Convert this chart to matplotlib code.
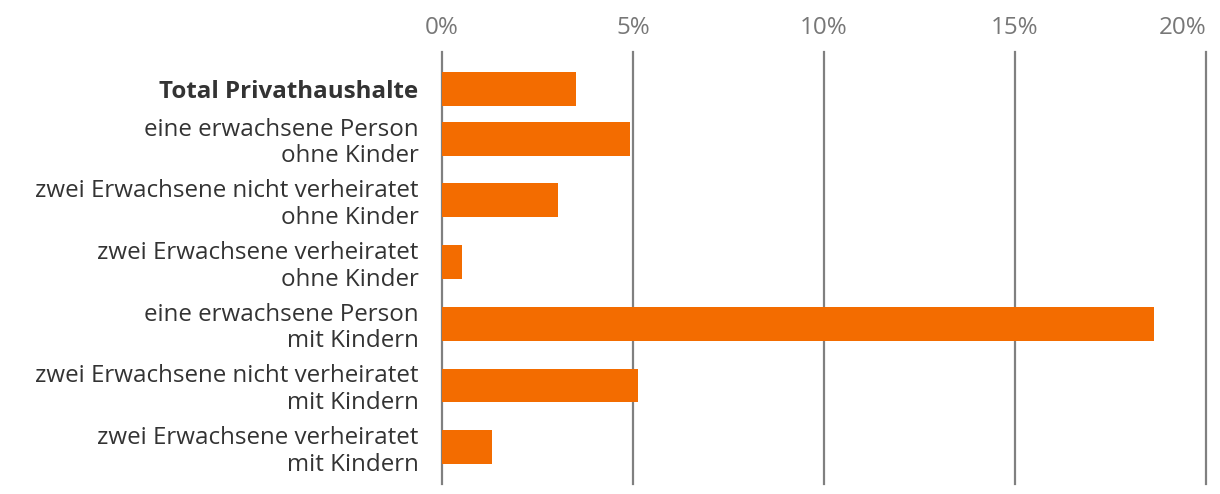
import numpy as np
import matplotlib
matplotlib.use('Agg')
from matplotlib import pyplot as plt

plt.rcParams['font.family'] = ['Open Sans', 'DejaVu Sans']

# Daten (Anteil in %)
labels = ['Total Privathaushalte',
          'eine erwachsene Person\nohne Kinder',
          'zwei Erwachsene nicht verheiratet\nohne Kinder',
          'zwei Erwachsene verheiratet\nohne Kinder',
          'eine erwachsene Person\nmit Kindern',
          'zwei Erwachsene nicht verheiratet\nmit Kindern',
          'zwei Erwachsene verheiratet\nmit Kindern']
werte = [3.5, 4.92, 3.04, 0.52, 18.64, 5.13, 1.31]
xticks = [0, 5, 10, 15, 20]

# Zeilenhöhe hängt von der Anzahl Textzeilen ab
hoehe = np.array([14 + 24 * (l.count('\n') + 1) for l in labels])
pos = np.concatenate([[0], np.cumsum((hoehe[:-1] + hoehe[1:]) / 2)])

fig = plt.figure(figsize=(12.2, 4.94), dpi=100)
ax = fig.add_axes([442 / 1220, 10 / 494, 764 / 1220, 432 / 494])

ax.barh(pos, werte, height=34, color='#f36c00', zorder=3)

ax.set_xlim(0, 20)
ax.set_ylim(pos[-1] + 37, -37)
ax.set_xticks(xticks)
ax.set_xticklabels([f'{t}%' for t in xticks])
ax.xaxis.tick_top()
ax.tick_params(axis='x', length=0, pad=9, labelsize=17.4, labelcolor='#777777')
ax.get_xticklabels()[-1].set_horizontalalignment('right')
ax.set_yticks(pos)
ax.set_yticklabels(labels, linespacing=1.15)
ax.tick_params(axis='y', length=0, pad=17, labelsize=17.4, labelcolor='#333333')
ax.get_yticklabels()[0].set_fontweight('bold')

ax.grid(axis='x', color='#808080', linewidth=1.6, zorder=0)
for gl in ax.get_xgridlines():
    gl.set_clip_on(False)
for s in ax.spines.values():
    s.set_visible(False)

fig.savefig('out.png', dpi=100)
